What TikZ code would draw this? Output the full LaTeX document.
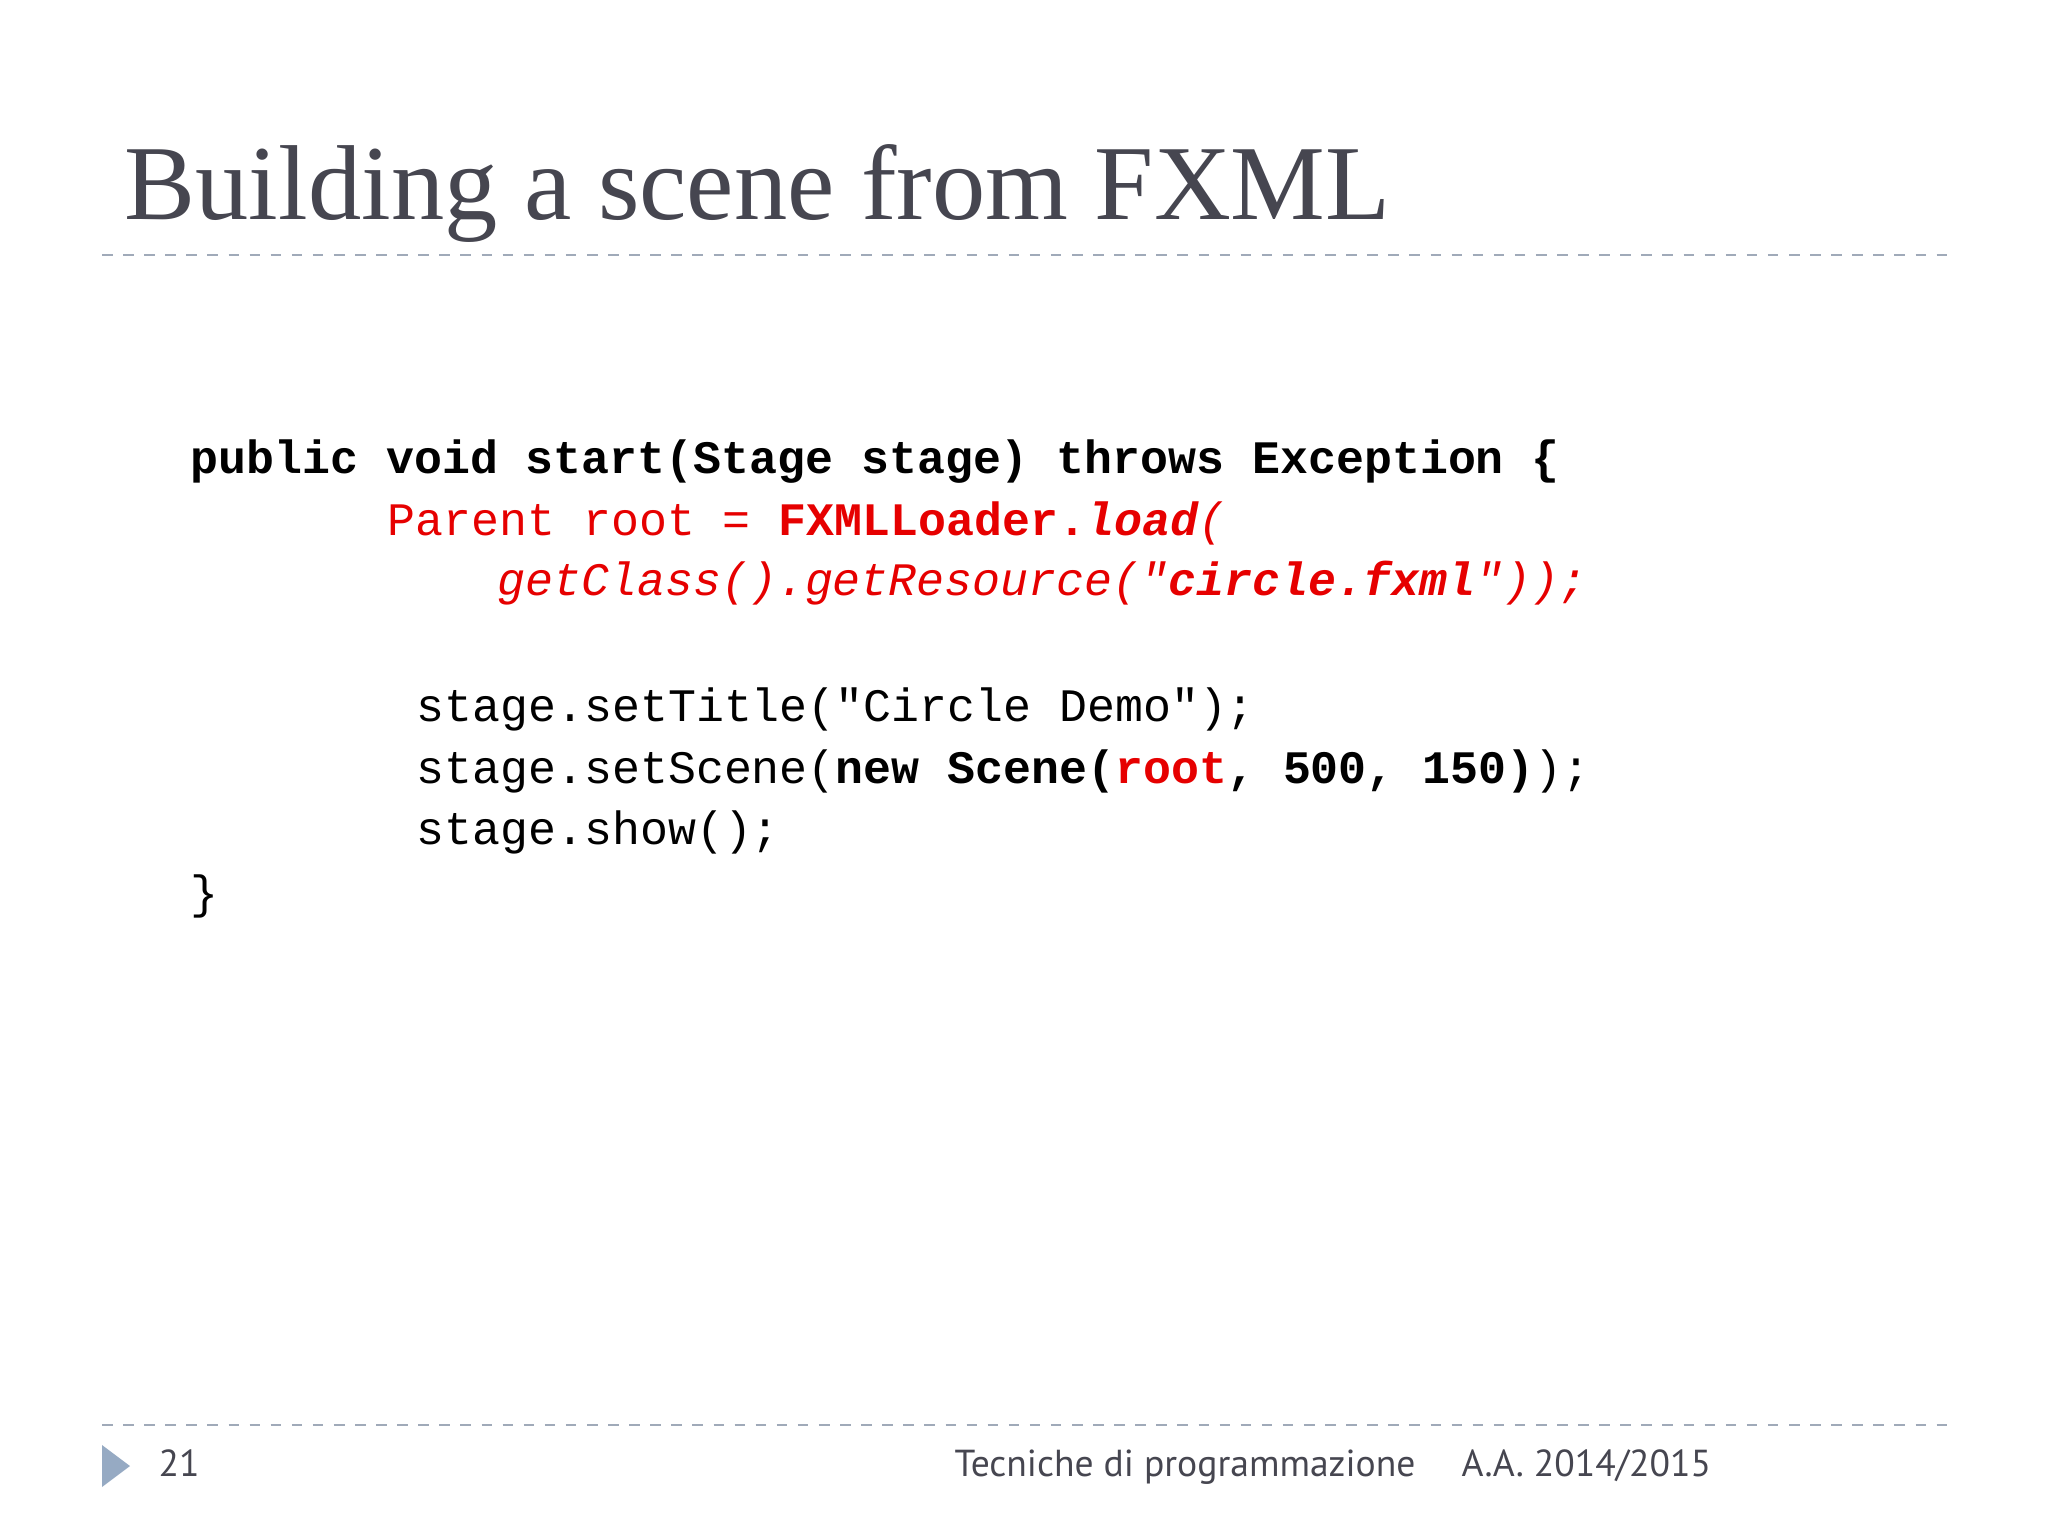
\documentclass[tikz,border=0pt]{standalone}
\usepackage{fontspec}
\setmainfont{Liberation Serif}
\setmonofont{Liberation Mono}
\newfontfamily\footfont{PT Sans}
\definecolor{titlec}{RGB}{70,70,80}
\definecolor{dashc}{RGB}{160,170,185}
\definecolor{codered}{RGB}{230,0,0}
\definecolor{tric}{RGB}{150,170,195}
\begin{document}
\begin{tikzpicture}[x=1cm,y=1cm,
  codeline/.style={anchor=base west,inner sep=0pt,font=\ttfamily\fontsize{13.25}{15}\selectfont},
  foot/.style={anchor=base west,inner sep=0pt,font=\footfont\fontsize{10.7}{13}\selectfont,text=titlec},
  sep/.style={draw=dashc,dashed,line width=0.6pt}]
\useasboundingbox[fill=white] (0,0) rectangle (20.48,-15.36);
\node[anchor=base west,inner sep=0pt,text=titlec,font=\fontsize{30.3}{36}\selectfont] (title) at (1.24,-2.2) {Building a scene from FXML};
\coordinate (s1a) at (1.02,-2.55); \coordinate (s1b) at (19.52,-2.55);
\draw[sep] (s1a) -- (s1b);
\node[codeline] (l1) at (1.90,-4.74) {\textbf{public void start(Stage stage) throws Exception \{}};
\node[codeline,text=codered] (l2) at (3.87,-5.35) {Parent root = \textbf{FXMLLoader.\textit{load}}\textit{(}};
\node[codeline,text=codered] (l3) at (4.97,-5.96) {\textit{getClass().getResource("\textbf{circle.fxml}"));}};
\node[codeline] (l5) at (4.16,-7.21) {stage.setTitle("Circle Demo");};
\node[codeline] (l6) at (4.16,-7.83) {stage.setScene(\textbf{new Scene(\textcolor{codered}{root}, 500, 150)});};
\node[codeline] (l7) at (4.16,-8.45) {stage.show();};
\node[codeline] (l8) at (1.90,-9.08) {\}};
\coordinate (s2a) at (1.02,-14.25); \coordinate (s2b) at (19.52,-14.25);
\draw[sep] (s2a) -- (s2b);
\fill[tric] (1.02,-14.45) -- (1.30,-14.66) -- (1.02,-14.87) -- cycle;
\node[foot] (pg) at (1.58,-14.76) {21};
\node[foot] (course) at (9.54,-14.76) {Tecniche di programmazione};
\node[foot] (aa) at (14.61,-14.76) {A.A. 2014/2015};
\end{tikzpicture}
\end{document}
